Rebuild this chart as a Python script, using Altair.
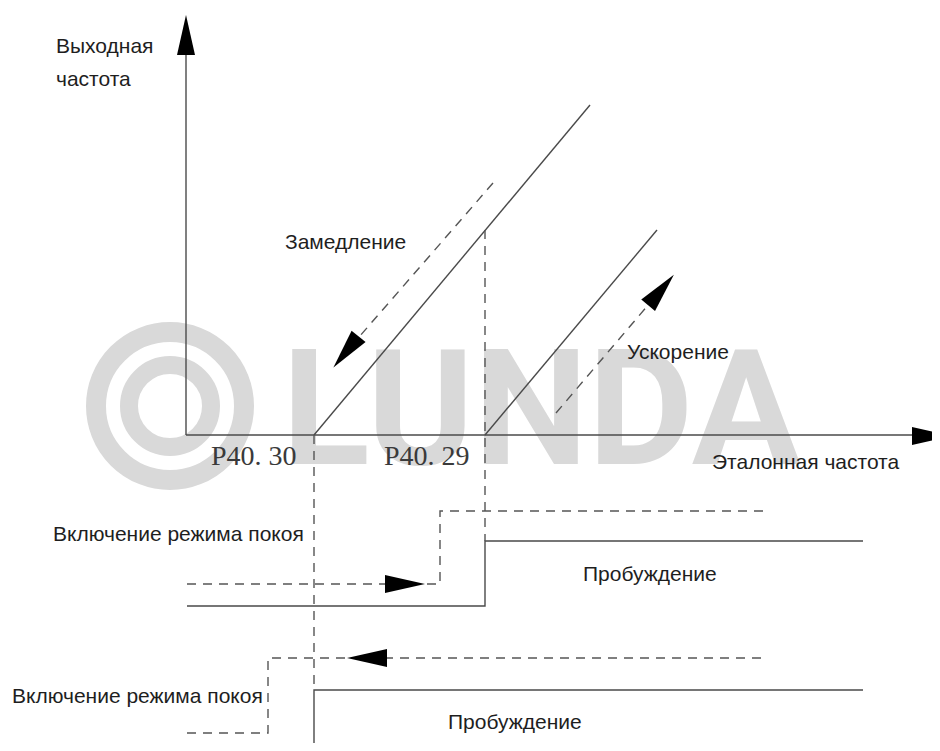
import altair as alt
import pandas as pd

# ---------------- data (diagram coordinates, pixel-like units, y grows downward) ----------------
# solid polylines: id -> list of (x, y)
solid_paths = {
    "y_axis": [(186, 55), (186, 435)],
    "x_axis": [(186, 435), (915, 435)],
    "diag_sleep": [(314, 435), (590, 105)],
    "diag_wake": [(485, 435), (657, 230)],
    "step_upper": [(187, 606), (485, 606), (485, 541), (863, 541)],
    "step_lower": [(314, 760), (314, 690), (863, 690)],
}
# dashed polylines
dashed_paths = {
    "v_p4029": [(485, 230), (485, 541)],
    "v_p4030": [(314, 435), (314, 690)],
    "decel": [(493, 183), (346, 352)],
    "accel": [(556, 413), (661, 290)],
    "step_upper_d": [(187, 584), (440, 584), (440, 511), (763, 511)],
    "step_lower_d": [(187, 733), (268, 733), (268, 658), (763, 658)],
}
# arrow heads: centre x, centre y, rotation (deg, clockwise from "up")
arrow_x = [186, 932, 346, 661, 405, 367]
arrow_y = [35, 436, 352, 290, 584, 658]
arrow_angle = [0, 90, 219, 40, 90, 270]

# sans-serif labels
label_text = ["Выходная", "частота", "Замедление", "Ускорение", "Эталонная частота",
              "Включение режима покоя", "Пробуждение", "Включение режима покоя", "Пробуждение"]
label_x = [56, 56, 285, 627, 712, 53, 583, 12, 448]
label_y = [47, 80, 243, 353, 463, 535, 575, 697, 723]

# parameter tick labels (serif)
param_text = ["P40. 30", "P40. 29"]
param_x = [211, 384]
param_y = [457, 457]

# watermark
wm_ring_x = [170, 170]
wm_ring_y = [406, 406]
wm_ring_diam = [148, 82]
wm_ring_width = [20, 18]
wm_text = ["LUNDA"]
wm_text_x = [282]
wm_text_y = [464]

# ---------------- build tables ----------------
def path_df(paths):
    rows = []
    for pid, pts in paths.items():
        for i, (x, y) in enumerate(pts):
            rows.append({"id": pid, "x": x, "y": y, "o": i})
    return pd.DataFrame(rows)

solid_df = path_df(solid_paths)
dashed_df = path_df(dashed_paths)
arrow_df = pd.DataFrame({"x": arrow_x, "y": arrow_y, "a": arrow_angle})
label_df = pd.DataFrame({"t": label_text, "x": label_x, "y": label_y})
param_df = pd.DataFrame({"t": param_text, "x": param_x, "y": param_y})
ring_df = pd.DataFrame({"x": wm_ring_x, "y": wm_ring_y,
                        "s": [d * d for d in wm_ring_diam], "w": wm_ring_width})
wm_df = pd.DataFrame({"t": wm_text, "x": wm_text_x, "y": wm_text_y})

W, H = 924, 735
xs = alt.Scale(domain=[8, 8 + W], nice=False, zero=False)
ys = alt.Scale(domain=[8, 8 + H], nice=False, zero=False, reverse=True)
X = alt.X("x:Q", scale=xs, axis=None)
Y = alt.Y("y:Q", scale=ys, axis=None)

wm_color = "#d9d9d9"
rings = alt.Chart(ring_df).mark_point(shape="circle", filled=False, color=wm_color, opacity=1).encode(
    x=X, y=Y, size=alt.Size("s:Q", scale=None), strokeWidth=alt.StrokeWidth("w:Q", scale=None)
)
wm = alt.Chart(wm_df).mark_text(font="Roboto", fontWeight="bold", fontSize=162, color=wm_color,
                                align="left", baseline="alphabetic").encode(x=X, y=Y, text="t:N")

solid = alt.Chart(solid_df).mark_line(color="#4a4a4a", strokeWidth=1.4).encode(
    x=X, y=Y, detail="id:N", order="o:Q"
)
dashed = alt.Chart(dashed_df).mark_line(color="#555555", strokeWidth=1.4, strokeDash=[9, 7]).encode(
    x=X, y=Y, detail="id:N", order="o:Q"
)
arrows = alt.Chart(arrow_df).mark_point(shape="M0,-1L0.45,1L-0.45,1Z", filled=True, color="black",
                                        size=1600, opacity=1).encode(
    x=X, y=Y, angle=alt.Angle("a:Q", scale=None)
)
labels = alt.Chart(label_df).mark_text(font="Liberation Sans", fontSize=21, color="#1e1e1e",
                                       align="left", baseline="middle").encode(x=X, y=Y, text="t:N")
params = alt.Chart(param_df).mark_text(font="Liberation Serif", fontSize=28, color="#3a3a3a",
                                       align="left", baseline="middle").encode(x=X, y=Y, text="t:N")

chart = alt.layer(rings, wm, solid, dashed, arrows, labels, params).properties(
    width=W, height=H, padding=0, autosize=alt.AutoSizeParams(type="none")
).configure_view(stroke=None)

chart.save("out.html", embed_options={"renderer": "svg", "actions": False})
